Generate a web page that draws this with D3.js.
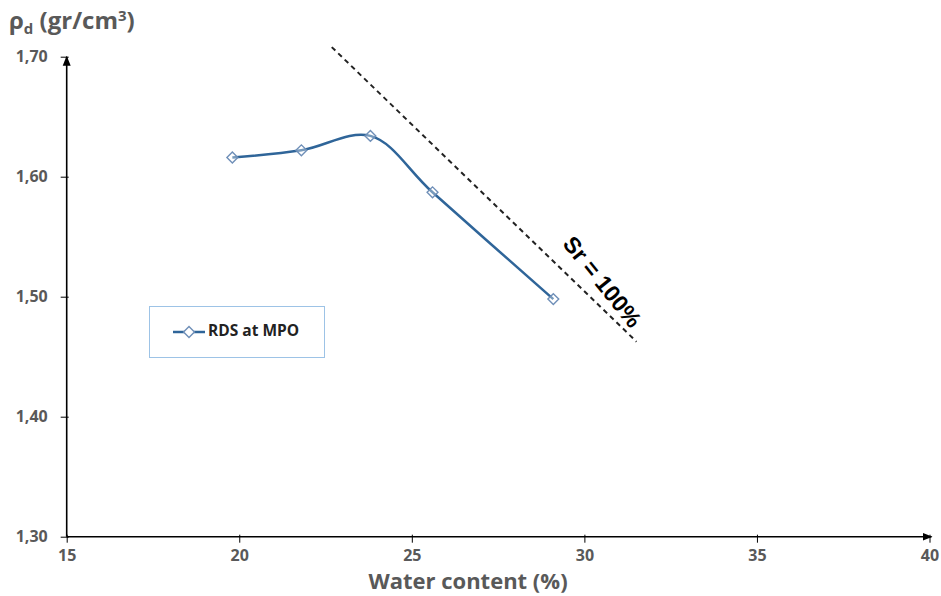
<!DOCTYPE html>
<html>
<head>
<meta charset="utf-8">
<script src="https://cdn.jsdelivr.net/npm/d3@7"></script>
<style>
  html, body { margin: 0; padding: 0; background: #fff; }
  svg { display: block; }
</style>
</head>
<body>
<svg id="chart" width="941" height="596"></svg>
<script>
// Compaction curve: dry density vs water content
const waterContent = [19.8, 21.8, 23.8, 25.6, 29.1];
const dryDensity   = [1.616, 1.622, 1.634, 1.587, 1.498];

// Zero air voids (Sr = 100%) reference line end points
const saturationX = [22.68, 31.51];
const saturationY = [1.708, 1.4625];

const xTicks = [15, 20, 25, 30, 35, 40];
const yTicks = [1.30, 1.40, 1.50, 1.60, 1.70];

const seriesName = "RDS at MPO";
const xTitle = "Water content (%)";
const satLabel = "Sr = 100%";

const svg = d3.select("#chart");
const grey = "#595959";
const lineBlue = "#2f6599";
const markerBlue = "#6f8fb8";
const uiFont = "'Open Sans', Lato, sans-serif";

const x = d3.scaleLinear().domain([15, 40]).range([66.7, 929.5]);
const y = d3.scaleLinear().domain([1.3, 1.7]).range([536.7, 56.7]);

const comma = d3.formatLocale({ decimal: ",", thousands: ".", grouping: [3], currency: ["", ""] }).format(".2f");

// Arrow head for the axes
const defs = svg.append("defs");
defs.append("marker")
  .attr("id", "arrow")
  .attr("viewBox", "0 0 10 10")
  .attr("refX", 9).attr("refY", 5)
  .attr("markerWidth", 10).attr("markerHeight", 10)
  .attr("markerUnits", "userSpaceOnUse")
  .attr("orient", "auto")
  .append("path")
  .attr("d", "M0,1 L10,5 L0,9 Z")
  .attr("fill", "#000");

// X axis
const xAxis = svg.append("g")
  .attr("transform", `translate(0,${y(1.3)})`)
  .call(d3.axisBottom(x).tickValues(xTicks).tickSize(6).tickPadding(7).tickFormat(d3.format("d")));
xAxis.select(".domain").remove();
xAxis.selectAll(".tick line").attr("stroke", "#000").attr("y1", -2);
xAxis.selectAll(".tick text")
  .attr("fill", grey).attr("font-family", uiFont).attr("font-weight", "bold").attr("font-size", 16);

// Y axis
const yAxis = svg.append("g")
  .attr("transform", `translate(${x(15)},0)`)
  .call(d3.axisLeft(y).tickValues(yTicks).tickSize(6).tickPadding(13).tickFormat(comma));
yAxis.select(".domain").remove();
yAxis.selectAll(".tick line").attr("stroke", "#000").attr("x2", -6).attr("x1", 2);
yAxis.selectAll(".tick text")
  .attr("fill", grey).attr("font-family", uiFont).attr("font-weight", "bold").attr("font-size", 16);

// Axis lines with arrows
svg.append("line")
  .attr("x1", x(15)).attr("y1", y(1.3)).attr("x2", x(40) + 2).attr("y2", y(1.3))
  .attr("stroke", "#000").attr("stroke-width", 1.6).attr("marker-end", "url(#arrow)");
svg.append("line")
  .attr("x1", x(15)).attr("y1", y(1.3)).attr("x2", x(15)).attr("y2", y(1.7))
  .attr("stroke", "#000").attr("stroke-width", 1.6).attr("marker-end", "url(#arrow)");

// Saturation line
svg.append("line")
  .attr("x1", x(saturationX[0])).attr("y1", y(saturationY[0]))
  .attr("x2", x(saturationX[1])).attr("y2", y(saturationY[1]))
  .attr("stroke", "#222").attr("stroke-width", 2)
  .attr("stroke-dasharray", "5,4");

// Saturation label, rotated along the line
const lx = 601, ly = 283;
svg.append("text")
  .attr("transform", `translate(${lx},${ly}) rotate(51)`)
  .attr("text-anchor", "middle")
  .attr("dominant-baseline", "middle")
  .attr("font-family", "'Liberation Sans', Arial, sans-serif")
  .attr("font-weight", "bold")
  .attr("font-size", 23)
  .attr("fill", "#000")
  .text(satLabel);

// Data series
const pts = waterContent.map((w, i) => [w, dryDensity[i]]);
const line = d3.line().x(d => x(d[0])).y(d => y(d[1])).curve(d3.curveCatmullRom.alpha(0.5));
svg.append("path")
  .attr("d", line(pts))
  .attr("fill", "none")
  .attr("stroke", lineBlue)
  .attr("stroke-width", 2.5);

const diamond = d3.symbol().type(d3.symbolDiamond2).size(75);
svg.selectAll(".pt")
  .data(pts)
  .join("path")
  .attr("class", "pt")
  .attr("transform", d => `translate(${x(d[0])},${y(d[1])})`)
  .attr("d", diamond)
  .attr("fill", "rgba(255,255,255,0.35)")
  .attr("stroke", markerBlue)
  .attr("stroke-width", 1.4);

// Legend
const legend = svg.append("g");
legend.append("rect")
  .attr("x", 149.5).attr("y", 306.5).attr("width", 175).attr("height", 51)
  .attr("fill", "#fff").attr("stroke", "#9dc3e6").attr("stroke-width", 1);
legend.append("line")
  .attr("x1", 173).attr("x2", 205).attr("y1", 332).attr("y2", 332)
  .attr("stroke", lineBlue).attr("stroke-width", 2.5);
legend.append("path")
  .attr("transform", "translate(189,332)")
  .attr("d", diamond)
  .attr("fill", "#fff")
  .attr("stroke", markerBlue)
  .attr("stroke-width", 1.4);
legend.append("text")
  .attr("x", 208).attr("y", 332)
  .attr("dominant-baseline", "middle")
  .attr("font-family", uiFont).attr("font-weight", "bold").attr("font-size", 15.5)
  .attr("fill", "#222")
  .text(seriesName);

// Axis titles
svg.append("text")
  .attr("x", 468).attr("y", 589)
  .attr("text-anchor", "middle")
  .attr("font-family", uiFont).attr("font-weight", "bold").attr("font-size", 22)
  .attr("fill", grey)
  .text(xTitle);

const yt = svg.append("text")
  .attr("x", 9).attr("y", 29)
  .attr("font-family", uiFont).attr("font-weight", "bold").attr("font-size", 24)
  .attr("fill", grey);
yt.append("tspan").text("ρ");
yt.append("tspan").attr("font-size", 15).attr("dy", 5).text("d");
yt.append("tspan").attr("dy", -5).text(" (gr/cm");
yt.append("tspan").attr("font-size", 15).attr("dy", -8).text("3");
yt.append("tspan").attr("dy", 8).text(")");
</script>
</body>
</html>
